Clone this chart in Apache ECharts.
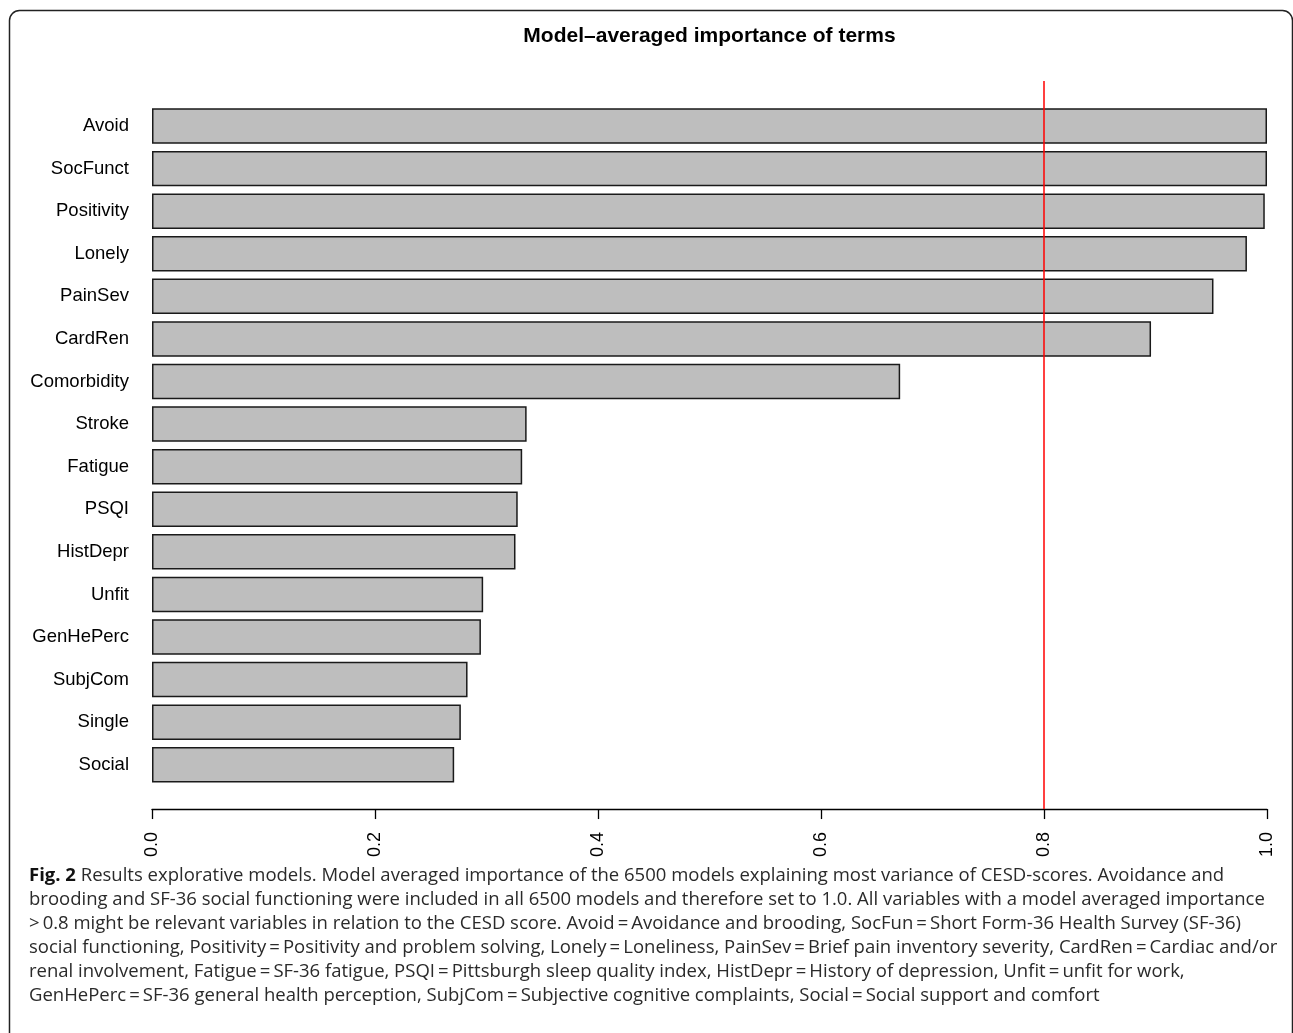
<!DOCTYPE html>
<html>
<head>
<meta charset="utf-8">
<script src="https://cdn.jsdelivr.net/npm/echarts@6/dist/echarts.min.js"></script>
<style>
html,body{margin:0;padding:0;background:#fff;}
#chart{width:1293px;height:1033px;}
</style>
</head>
<body>
<div id="chart"></div>
<script>
const categories = ['Avoid','SocFunct','Positivity','Lonely','PainSev','CardRen','Comorbidity','Stroke','Fatigue','PSQI','HistDepr','Unfit','GenHePerc','SubjCom','Single','Social'];
const importance = [1.0, 1.0, 0.998, 0.982, 0.952, 0.896, 0.671, 0.336, 0.332, 0.328, 0.326, 0.297, 0.295, 0.283, 0.277, 0.271];
const threshold = 0.8;
const titleText = 'Model\u2013averaged importance of terms';
const captionLines = [
  '{b|Fig. 2} Results explorative models. Model averaged importance of the 6500 models explaining most variance of CESD-scores. Avoidance and',
  'brooding and SF-36 social functioning were included in all 6500 models and therefore set to 1.0. All variables with a model averaged importance',
  '>\u20090.8 might be relevant variables in relation to the CESD score. Avoid\u2009=\u2009Avoidance and brooding, SocFun\u2009=\u2009Short Form-36 Health Survey (SF-36)',
  'social functioning, Positivity\u2009=\u2009Positivity and problem solving, Lonely\u2009=\u2009Loneliness, PainSev\u2009=\u2009Brief pain inventory severity, CardRen\u2009=\u2009Cardiac and/or',
  'renal involvement, Fatigue\u2009=\u2009SF-36 fatigue, PSQI\u2009=\u2009Pittsburgh sleep quality index, HistDepr\u2009=\u2009History of depression, Unfit\u2009=\u2009unfit for work,',
  'GenHePerc\u2009=\u2009SF-36 general health perception, SubjCom\u2009=\u2009Subjective cognitive complaints, Social\u2009=\u2009Social support and comfort'
];

const chart = echarts.init(document.getElementById('chart'), null, {renderer:'canvas'});
const sans = '"Liberation Sans", Arial, Helvetica, sans-serif';
const capFont = '"Open Sans", Roboto, sans-serif';
const capSize = 18.5;

const graphics = [
  {type:'rect', shape:{x:9.5, y:10.5, width:1283, height:1060, r:10}, style:{fill:null, stroke:'#222', lineWidth:1.5}, silent:true},
  {type:'text', x:709.5, y:36, style:{text:titleText, font:'bold 21px ' + sans, fill:'#000', textAlign:'center', textVerticalAlign:'middle'}}
];
captionLines.forEach((t,i)=>{
  graphics.push({type:'text', x:29, y:876 + i*24, style:{
    text:t, fill:'#2a2a2a', fontFamily:capFont, fontSize:capSize, textAlign:'left', textVerticalAlign:'middle',
    rich:{b:{fontWeight:'bold', fontFamily:capFont, fontSize:capSize, fill:'#111'}}
  }});
});

const option = {
  backgroundColor:'#fff',
  animation:false,
  grid:[
    {left:152, width:1115, top:104.75, height:681.3, containLabel:false},
    {left:152, width:1115, top:81, height:728, containLabel:false}
  ],
  xAxis:[
    {gridIndex:0, type:'value', min:0, max:1, interval:0.2, offset:23,
     axisLine:{show:true, lineStyle:{color:'#000', width:1.3}},
     axisTick:{show:true, length:10, lineStyle:{color:'#000', width:1.3}},
     axisLabel:{rotate:90, margin:23, fontSize:18, color:'#000', fontFamily:sans, formatter:v=>v.toFixed(1)},
     splitLine:{show:false}},
    {gridIndex:1, type:'value', min:0, max:1, show:false}
  ],
  yAxis:[
    {gridIndex:0, type:'category', data:categories, inverse:true,
     axisLine:{show:false}, axisTick:{show:false},
     axisLabel:{margin:23, fontSize:18.5, color:'#000', fontFamily:sans}},
    {gridIndex:1, type:'value', min:0, max:1, show:false}
  ],
  series:[
    {type:'bar', xAxisIndex:0, yAxisIndex:0, data:importance, barWidth:'83.33%',
     itemStyle:{color:'#bebebe', borderColor:'#1a1a1a', borderWidth:1.5}, z:2},
    {type:'line', xAxisIndex:1, yAxisIndex:1, data:[[threshold,0],[threshold,1]],
     showSymbol:false, symbol:'none', lineStyle:{color:'#ff0000', width:1.5}, z:5}
  ],
  graphic:graphics
};
chart.setOption(option);
</script>
</body>
</html>
